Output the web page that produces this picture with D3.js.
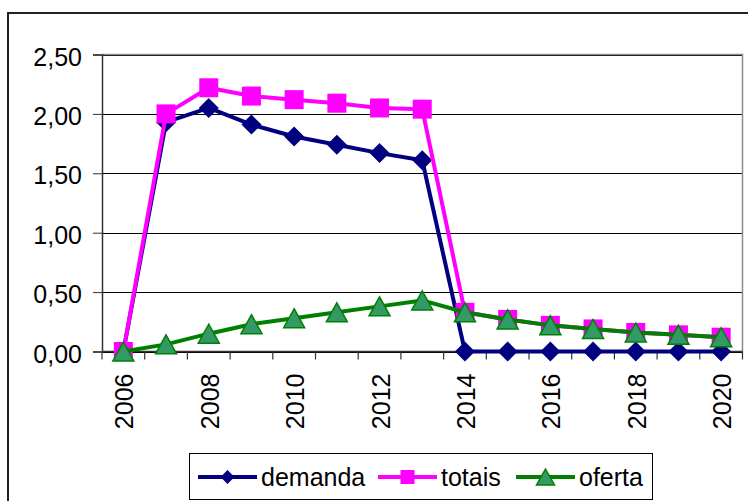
<!doctype html>
<html lang="pt">
<head>
<meta charset="utf-8">
<title>demanda / totais / oferta</title>
<script src="https://d3js.org/d3.v7.min.js"></script>
<style>
  body { margin: 0; background: #fff; }
  svg { display: block; font-family: Arial, "Liberation Sans", sans-serif; }
  .lbl { font-size: 25px; fill: #000; }
</style>
</head>
<body>
<svg id="main" width="748" height="501"></svg>
<script>
// data
const years = [2006, 2007, 2008, 2009, 2010, 2011, 2012, 2013, 2014, 2015, 2016, 2017, 2018, 2019, 2020];
const demanda = [0, 1.93, 2.05, 1.91, 1.81, 1.74, 1.67, 1.61, 0, 0, 0, 0, 0, 0, 0];
const totais  = [0, 2.00, 2.22, 2.15, 2.12, 2.09, 2.05, 2.04, 0.33, 0.27, 0.22, 0.19, 0.16, 0.14, 0.12];
const oferta  = [0, 0.06, 0.15, 0.23, 0.28, 0.33, 0.38, 0.43, 0.33, 0.27, 0.22, 0.19, 0.16, 0.14, 0.12];
const yTicks = [0, 0.5, 1, 1.5, 2, 2.5];
const xLabels = [2006, 2008, 2010, 2012, 2014, 2016, 2018, 2020];
const seriesNames = ['demanda', 'totais', 'oferta'];

const svg = d3.select('#main');
const x0 = 102, x1 = 742.5, yTop = 54.5, yBot = 351.5;

const x = d3.scaleBand().domain(years).range([x0, x1]).padding(0);
const y = d3.scaleLinear().domain([0, 2.5]).range([yBot, yTop]);
const fmt = d3.formatLocale({decimal: ',', thousands: '.', grouping: [3], currency: ['R$', '']}).format('.2f');
const cx = d => x(d) + x.bandwidth() / 2;

// outer chart frame
svg.append('rect').attr('x', 8).attr('y', 13).attr('width', 800).attr('height', 600)
  .attr('fill', 'none').attr('stroke', '#222').attr('stroke-width', 2);

// gridlines (black) + little ticks on the left
svg.append('g').attr('transform', `translate(${x0},0)`)
  .call(d3.axisLeft(y).tickValues(yTicks).tickSize(-(x1 - x0)).tickFormat(''))
  .call(g => g.select('.domain').remove())
  .call(g => g.selectAll('line').attr('stroke', '#000').attr('shape-rendering', 'crispEdges'));

// plot area border: gray top and right
svg.append('path').attr('d', `M${x0},${yTop}H${x1}V${yBot}`)
  .attr('fill', 'none').attr('stroke', '#8c8c8c').attr('stroke-width', 1.5);

// y axis
svg.append('g').attr('transform', `translate(${x0},0)`)
  .call(d3.axisLeft(y).tickValues(yTicks).tickSize(9).tickPadding(11).tickFormat(fmt))
  .call(g => g.select('.domain').attr('stroke', '#333').attr('stroke-width', 1.5))
  .call(g => g.selectAll('line').attr('stroke', '#333'))
  .call(g => g.selectAll('text').attr('class', 'lbl').attr('font-size', null)
    .attr('font-family', null).attr('dy', '0.42em'));

// x axis: ticks between categories
const bounds = years.map(d => x(d)).concat([x1]);
svg.append('g').selectAll('line').data(bounds).join('line')
  .attr('x1', d => d).attr('x2', d => d).attr('y1', yBot).attr('y2', yBot + 8)
  .attr('stroke', '#333').attr('stroke-width', 1.2);
svg.append('line').attr('x1', x0).attr('x2', x1).attr('y1', yBot).attr('y2', yBot)
  .attr('stroke', '#333').attr('stroke-width', 1.5);

svg.append('g').selectAll('text').data(xLabels).join('text')
  .attr('class', 'lbl')
  .attr('font-size', 24)
  .attr('transform', d => `translate(${cx(d) + 1},${yBot + 22}) rotate(-90)`)
  .attr('text-anchor', 'end')
  .attr('dy', '0.36em')
  .text(d => d);

// markers
const diamond = s => `M0,${-s}L${s},0L0,${s}L${-s},0Z`;
const square = s => `M${-s},${-s}H${s}V${s}H${-s}Z`;
const triangle = (w, h) => `M0,${-h / 2}L${w / 2},${h / 2}L${-w / 2},${h / 2}Z`;

const styles = {
  demanda: {values: demanda, stroke: '#000080', fill: '#000080', mstroke: 'none',
            mark: diamond(10), legendMark: diamond(7)},
  totais:  {values: totais, stroke: '#ff00ff', fill: '#ff00ff', mstroke: 'none',
            mark: square(9.5), legendMark: square(7)},
  oferta:  {values: oferta, stroke: '#008000', fill: '#339966', mstroke: '#008000',
            mark: triangle(21, 19), legendMark: triangle(18, 16)}
};

const line = d3.line().x((d, i) => cx(years[i])).y(d => y(d));

seriesNames.forEach(name => {
  const s = styles[name];
  const g = svg.append('g');
  g.append('path').datum(s.values).attr('d', line)
    .attr('fill', 'none').attr('stroke', s.stroke).attr('stroke-width', 4)
    .attr('stroke-linejoin', 'round');
  g.selectAll('path.m').data(s.values).join('path').attr('class', 'm')
    .attr('transform', (d, i) => `translate(${cx(years[i])},${y(d)})`)
    .attr('d', s.mark).attr('fill', s.fill)
    .attr('stroke', s.mstroke).attr('stroke-width', 1.5);
});

// legend
const leg = svg.append('g');
leg.append('rect').attr('x', 189.5).attr('y', 453.5).attr('width', 463).attr('height', 46)
  .attr('fill', '#fff').attr('stroke', '#000').attr('stroke-width', 1);
const legX = [198, 378, 516];
const legY = 477;
seriesNames.forEach((name, i) => {
  const s = styles[name];
  const lx = legX[i];
  leg.append('line').attr('x1', lx).attr('x2', lx + 59).attr('y1', legY).attr('y2', legY)
    .attr('stroke', s.stroke).attr('stroke-width', 4);
  leg.append('path').attr('transform', `translate(${lx + 29.5},${legY})`)
    .attr('d', s.legendMark).attr('fill', s.fill)
    .attr('stroke', s.mstroke).attr('stroke-width', 1.5);
  leg.append('text').attr('class', 'lbl').attr('x', lx + 63).attr('y', legY)
    .attr('dy', '0.36em').text(name);
});
</script>
</body>
</html>
